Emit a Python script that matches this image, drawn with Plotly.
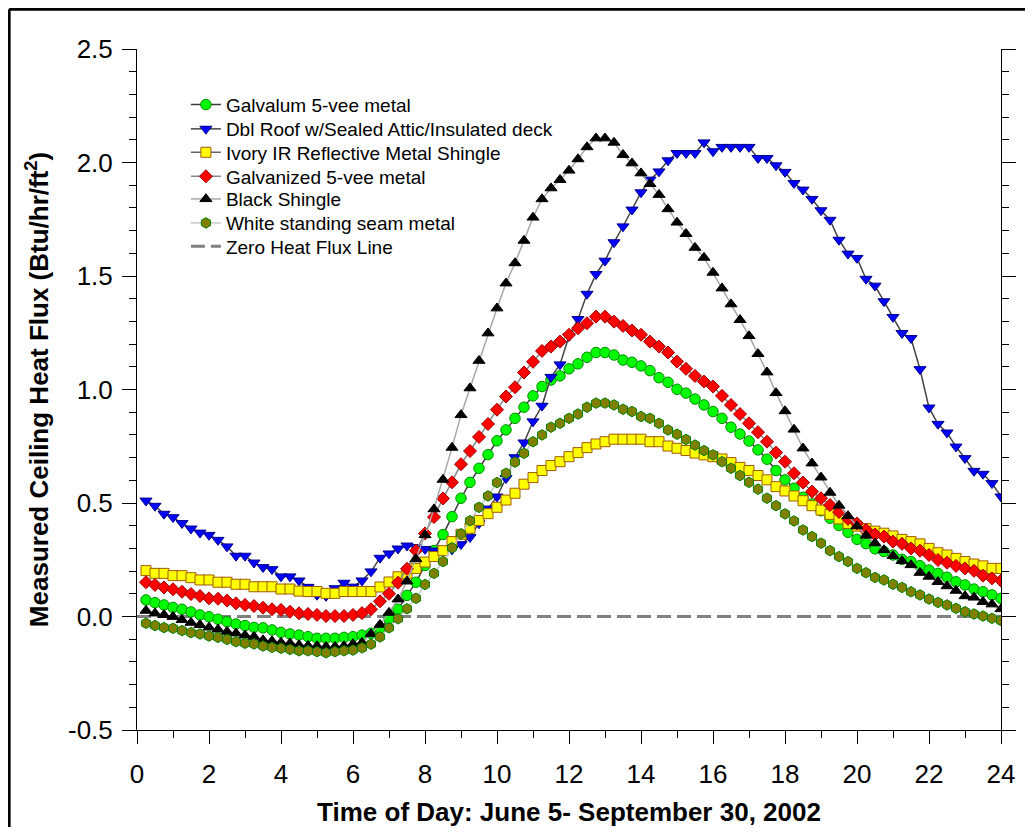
import plotly.graph_objects as go

# ---------------- data ----------------
time_h = [0.25, 0.5, 0.75, 1.0, 1.25, 1.5, 1.75, 2.0, 2.25, 2.5, 2.75, 3.0,
          3.25, 3.5, 3.75, 4.0, 4.25, 4.5, 4.75, 5.0, 5.25, 5.5, 5.75, 6.0,
          6.25, 6.5, 6.75, 7.0, 7.25, 7.5, 7.75, 8.0, 8.25, 8.5, 8.75, 9.0,
          9.25, 9.5, 9.75, 10.0, 10.25, 10.5, 10.75, 11.0, 11.25, 11.5, 11.75, 12.0,
          12.25, 12.5, 12.75, 13.0, 13.25, 13.5, 13.75, 14.0, 14.25, 14.5, 14.75, 15.0,
          15.25, 15.5, 15.75, 16.0, 16.25, 16.5, 16.75, 17.0, 17.25, 17.5, 17.75, 18.0,
          18.25, 18.5, 18.75, 19.0, 19.25, 19.5, 19.75, 20.0, 20.25, 20.5, 20.75, 21.0,
          21.25, 21.5, 21.75, 22.0, 22.25, 22.5, 22.75, 23.0, 23.25, 23.5, 23.75, 24.0]

galvalum = [0.073, 0.061, 0.051, 0.040, 0.032, 0.020, 0.007, -0.001, -0.012, -0.023,
            -0.033, -0.040, -0.048, -0.050, -0.059, -0.070, -0.077, -0.082, -0.089, -0.096,
            -0.096, -0.096, -0.092, -0.089, -0.082, -0.074, -0.052, -0.010, 0.032, 0.093,
            0.151, 0.225, 0.291, 0.361, 0.440, 0.521, 0.591, 0.653, 0.713, 0.774,
            0.822, 0.873, 0.922, 0.972, 1.013, 1.042, 1.060, 1.091, 1.113, 1.142,
            1.163, 1.163, 1.152, 1.130, 1.120, 1.104, 1.083, 1.052, 1.032, 1.001,
            0.984, 0.958, 0.932, 0.903, 0.873, 0.834, 0.804, 0.773, 0.734, 0.693,
            0.643, 0.602, 0.565, 0.525, 0.496, 0.466, 0.433, 0.401, 0.371, 0.340,
            0.321, 0.298, 0.286, 0.271, 0.252, 0.242, 0.224, 0.205, 0.190, 0.173,
            0.153, 0.139, 0.121, 0.109, 0.095, 0.080]

dbl_roof = [0.510, 0.487, 0.452, 0.437, 0.411, 0.387, 0.369, 0.359, 0.337, 0.308,
            0.267, 0.267, 0.237, 0.217, 0.208, 0.176, 0.176, 0.158, 0.130, 0.095,
            0.090, 0.124, 0.148, 0.131, 0.158, 0.198, 0.258, 0.277, 0.299, 0.312,
            0.305, 0.297, 0.290, 0.285, 0.295, 0.318, 0.349, 0.410, 0.475, 0.528,
            0.609, 0.701, 0.766, 0.859, 0.928, 1.055, 1.110, 1.235, 1.310, 1.421,
            1.508, 1.567, 1.648, 1.718, 1.792, 1.868, 1.924, 1.960, 2.009, 2.041,
            2.041, 2.041, 2.088, 2.049, 2.068, 2.068, 2.068, 2.068, 2.019, 2.019,
            1.987, 1.958, 1.909, 1.880, 1.839, 1.789, 1.747, 1.659, 1.598, 1.579,
            1.487, 1.457, 1.388, 1.319, 1.248, 1.226, 1.089, 0.920, 0.848, 0.810,
            0.748, 0.697, 0.641, 0.628, 0.587, 0.528]

ivory = [0.202, 0.190, 0.190, 0.180, 0.180, 0.171, 0.161, 0.161, 0.151, 0.151,
         0.142, 0.142, 0.131, 0.131, 0.131, 0.121, 0.121, 0.112, 0.110, 0.110,
         0.102, 0.102, 0.110, 0.110, 0.110, 0.110, 0.130, 0.152, 0.175, 0.189,
         0.212, 0.240, 0.264, 0.290, 0.330, 0.362, 0.389, 0.423, 0.453, 0.481,
         0.513, 0.543, 0.583, 0.612, 0.643, 0.665, 0.682, 0.704, 0.722, 0.744,
         0.760, 0.770, 0.781, 0.781, 0.781, 0.781, 0.770, 0.770, 0.751, 0.741,
         0.731, 0.720, 0.712, 0.704, 0.694, 0.678, 0.657, 0.643, 0.621, 0.602,
         0.572, 0.553, 0.531, 0.510, 0.488, 0.469, 0.450, 0.430, 0.410, 0.398,
         0.387, 0.376, 0.367, 0.355, 0.340, 0.330, 0.320, 0.300, 0.281, 0.271,
         0.256, 0.242, 0.231, 0.223, 0.212, 0.212]

galvanized = [0.151, 0.139, 0.128, 0.120, 0.109, 0.099, 0.090, 0.080, 0.078, 0.070,
              0.058, 0.051, 0.046, 0.039, 0.032, 0.029, 0.021, 0.014, 0.011, 0.007,
              0.002, 0.002, 0.002, 0.007, 0.015, 0.032, 0.067, 0.100, 0.149, 0.210,
              0.290, 0.366, 0.438, 0.520, 0.591, 0.671, 0.729, 0.791, 0.848, 0.911,
              0.969, 1.010, 1.075, 1.122, 1.170, 1.189, 1.211, 1.241, 1.270, 1.292,
              1.321, 1.321, 1.299, 1.280, 1.260, 1.241, 1.211, 1.189, 1.163, 1.123,
              1.091, 1.060, 1.035, 1.013, 0.972, 0.932, 0.892, 0.851, 0.812, 0.770,
              0.722, 0.682, 0.631, 0.590, 0.550, 0.521, 0.491, 0.460, 0.430, 0.410,
              0.382, 0.361, 0.352, 0.330, 0.320, 0.300, 0.290, 0.271, 0.249, 0.237,
              0.223, 0.212, 0.201, 0.180, 0.168, 0.158]

black_shingle = [0.026, 0.014, 0.007, -0.001, -0.015, -0.027, -0.037, -0.048, -0.057, -0.067,
                 -0.074, -0.083, -0.089, -0.104, -0.108, -0.115, -0.118, -0.126, -0.129, -0.130,
                 -0.133, -0.133, -0.130, -0.121, -0.115, -0.077, -0.036, 0.017, 0.076, 0.155,
                 0.253, 0.359, 0.473, 0.603, 0.744, 0.888, 1.006, 1.127, 1.248, 1.358,
                 1.468, 1.557, 1.656, 1.758, 1.839, 1.887, 1.924, 1.965, 2.015, 2.068,
                 2.107, 2.107, 2.088, 2.034, 1.997, 1.953, 1.906, 1.858, 1.795, 1.736,
                 1.686, 1.625, 1.581, 1.515, 1.446, 1.376, 1.307, 1.236, 1.157, 1.076,
                 0.985, 0.905, 0.824, 0.741, 0.675, 0.613, 0.546, 0.489, 0.443, 0.398,
                 0.357, 0.323, 0.293, 0.267, 0.245, 0.227, 0.193, 0.176, 0.153, 0.134,
                 0.114, 0.090, 0.084, 0.065, 0.054, 0.033]

white_seam = [-0.030, -0.040, -0.049, -0.052, -0.062, -0.071, -0.077, -0.086, -0.092, -0.101,
              -0.111, -0.118, -0.121, -0.130, -0.136, -0.140, -0.145, -0.151, -0.151, -0.155,
              -0.160, -0.155, -0.151, -0.148, -0.138, -0.122, -0.090, -0.050, -0.010, 0.034,
              0.080, 0.141, 0.190, 0.242, 0.303, 0.364, 0.422, 0.481, 0.531, 0.590,
              0.631, 0.680, 0.719, 0.770, 0.800, 0.834, 0.851, 0.873, 0.892, 0.922,
              0.940, 0.940, 0.932, 0.913, 0.903, 0.881, 0.873, 0.851, 0.822, 0.803,
              0.780, 0.755, 0.731, 0.712, 0.682, 0.653, 0.621, 0.591, 0.561, 0.521,
              0.488, 0.452, 0.421, 0.381, 0.352, 0.323, 0.290, 0.264, 0.242, 0.212,
              0.193, 0.172, 0.161, 0.142, 0.128, 0.109, 0.095, 0.077, 0.062, 0.051,
              0.036, 0.021, 0.011, 0.002, -0.008, -0.018]

zero_x = [0, 24]
zero_y = [0, 0]

series_names = ["Galvalum 5-vee metal",
                "Dbl Roof w/Sealed Attic/Insulated deck",
                "Ivory IR Reflective Metal Shingle",
                "Galvanized 5-vee metal",
                "Black Shingle",
                "White standing seam metal"]
zero_name = "Zero Heat Flux Line"

x_ticks = [0, 2, 4, 6, 8, 10, 12, 14, 16, 18, 20, 22, 24]
x_tick_labels = ["0", "2", "4", "6", "8", "10", "12", "14", "16", "18", "20", "22", "24"]
x_top_ticks = [1, 3, 5, 7, 9, 11, 13, 15, 17, 19, 21, 23]
y_ticks = [-0.5, 0.0, 0.5, 1.0, 1.5, 2.0, 2.5]
y_tick_labels = ["-0.5", "0.0", "0.5", "1.0", "1.5", "2.0", "2.5"]

x_title = "<b>Time of Day: June 5- September 30, 2002</b>"
y_title = "<b>Measured Ceiling Heat Flux (Btu/hr/ft<sup>2</sup>)</b>"

# ---------------- styles ----------------
FONT = "Liberation Sans, Arial, Helvetica, sans-serif"
styles = [
    dict(symbol="circle", size=10.5, color="#00FF00", edge="#009000", line="#3a3a3a"),
    dict(symbol="triangle-down", size=10.5, color="#0000FF", edge="#00008B", line="#444444"),
    dict(symbol="square", size=10, color="#FFFF00", edge="#A05A00", line="#666666"),
    dict(symbol="diamond", size=10, color="#FF0000", edge="#A00000", line="#888888"),
    dict(symbol="triangle-up", size=10.5, color="#000000", edge="#000000", line="#A8A8A8"),
    dict(symbol="hexagon", size=10.5, color="#808000", edge="#008000", line="#C8C8C8"),
]
values = [galvalum, dbl_roof, ivory, galvanized, black_shingle, white_seam]

# legend rows (paper y of each row centre), one small legend per entry
legend_ids = ["legend", "legend2", "legend3", "legend4", "legend5", "legend6", "legend7"]
legend_rows = [0.9182, 0.8825, 0.8481, 0.8128, 0.7796, 0.7444, 0.7100]
LEGEND_X = 0.0566

fig = go.Figure()

# zero line drawn first (beneath the markers), listed last in legend
fig.add_trace(go.Scatter(
    x=zero_x, y=zero_y, mode="lines", name=zero_name, legend=legend_ids[6],
    line=dict(color="#808080", width=3, dash="14px,6px"),
))

for k, (name, vals, st) in enumerate(zip(series_names, values, styles)):
    fig.add_trace(go.Scatter(
        x=time_h, y=vals, mode="lines+markers", name=name, legend=legend_ids[k],
        line=dict(color=st["line"], width=1.5),
        marker=dict(symbol=st["symbol"], size=st["size"], color=st["color"],
                    line=dict(color=st["edge"], width=1)),
    ))

legend_layout = {}
for lid, ly in zip(legend_ids, legend_rows):
    legend_layout[lid] = dict(
        x=LEGEND_X, y=ly, xanchor="left", yanchor="middle",
        bgcolor="rgba(0,0,0,0)", borderwidth=0,
        font=dict(family=FONT, size=19, color="black"),
    )

fig.update_layout(
    width=1017, height=819,
    margin=dict(l=129, r=24, t=41, b=97, autoexpand=False),
    paper_bgcolor="white", plot_bgcolor="white",
    font=dict(family=FONT, color="black", size=19),
    showlegend=True,
    xaxis=dict(
        range=[0, 24], tickmode="array", tickvals=x_ticks, ticktext=x_tick_labels,
        ticks="outside", ticklen=13, tickwidth=1, tickcolor="black",
        minor=dict(tickmode="array", tickvals=x_top_ticks, ticks="outside", ticklen=7,
                   tickwidth=1, tickcolor="black", showgrid=False),
        showline=True, linecolor="black", linewidth=1, mirror=False,
        showgrid=False, zeroline=False,
        tickfont=dict(family=FONT, size=26, color="black"),
        ticklabelstandoff=8,
        title=dict(text=x_title, font=dict(family=FONT, size=26, color="black"), standoff=24),
    ),
    xaxis2=dict(
        overlaying="x", side="top", anchor="y", range=[0, 24],
        tickmode="array", tickvals=x_top_ticks, ticks="inside", ticklen=6,
        tickwidth=1, tickcolor="black", showticklabels=False,
        showline=True, linecolor="black", linewidth=1,
        showgrid=False, zeroline=False,
    ),
    yaxis=dict(
        range=[-0.5, 2.5], tickmode="array", tickvals=y_ticks, ticktext=y_tick_labels,
        ticks="outside", ticklen=14, tickwidth=1, tickcolor="black",
        minor=dict(tickmode="linear", tick0=0, dtick=0.1, ticks="outside", ticklen=7,
                   tickwidth=1, tickcolor="black", showgrid=False),
        showline=True, linecolor="black", linewidth=1, mirror="ticks",
        showgrid=False, zeroline=False,
        tickfont=dict(family=FONT, size=26, color="black"),
        ticklabelstandoff=4,
        title=dict(text=y_title, font=dict(family=FONT, size=26, color="black"), standoff=11),
    ),
    shapes=[
        dict(type="line", xref="paper", yref="paper", x0=-0.148, x1=1.03, y0=1.0585, y1=1.0585,
             line=dict(color="black", width=3)),
        dict(type="line", xref="paper", yref="paper", x0=-0.148, x1=-0.148, y0=1.0585, y1=-0.15,
             line=dict(color="black", width=3)),
    ],
    **legend_layout,
)

fig.write_html("out.html")
